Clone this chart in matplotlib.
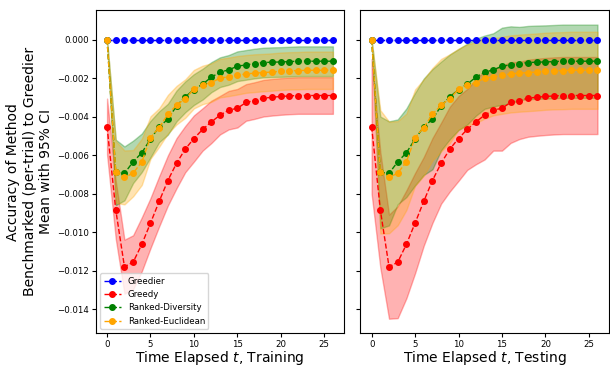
import numpy as np
import matplotlib
matplotlib.use("Agg")
import matplotlib.pyplot as plt

# time steps
t = np.arange(27)

methods = ['Greedier', 'Greedy', 'Ranked-Diversity', 'Ranked-Euclidean']
colors = ['blue', 'red', 'green', 'orange']

# mean accuracy relative to Greedier (same means in training and testing)
greedier_mean = [0.0] * 27
greedy_mean = [-0.00451, -0.00883, -0.01178, -0.01155, -0.01062, -0.00952, -0.00839,
               -0.00731, -0.00641, -0.00568, -0.00513, -0.00466, -0.00427, -0.00392,
               -0.00366, -0.00356, -0.00326, -0.00316, -0.00304, -0.00299, -0.00295,
               -0.00292, -0.0029, -0.0029, -0.0029, -0.0029, -0.0029]
diversity_mean = [0.0, -0.00689, -0.00694, -0.00634, -0.00587, -0.00516, -0.00452,
                  -0.00413, -0.00344, -0.00297, -0.00259, -0.00231, -0.00195, -0.00169,
                  -0.00157, -0.00138, -0.00131, -0.00124, -0.00119, -0.00117, -0.00116,
                  -0.00114, -0.00112, -0.00112, -0.00112, -0.00112, -0.00112]
euclid_mean = [0.0, -0.00686, -0.00715, -0.00693, -0.00634, -0.00508, -0.00456,
               -0.00387, -0.0034, -0.00306, -0.00257, -0.00235, -0.00223, -0.002,
               -0.00193, -0.00185, -0.00178, -0.00174, -0.00171, -0.00168, -0.00164,
               -0.00162, -0.00161, -0.00159, -0.00159, -0.00159, -0.00159]

# 95% CI half widths, training
greedier_ci_tr = [0.0] * 27
greedy_ci_tr = [0.00145, 0.0015, 0.0014, 0.0014, 0.0014, 0.0013, 0.0013, 0.0013, 0.0013,
                0.0012, 0.0012, 0.0011, 0.0011, 0.001, 0.001, 0.001, 0.00095, 0.00095,
                0.00095, 0.00095, 0.00095, 0.00095, 0.00095, 0.00095, 0.00095, 0.00095, 0.00095]
diversity_ci_tr = [0.0, 0.0017, 0.0014, 0.0011, 0.001, 0.00095, 0.0008, 0.0008, 0.0008,
                   0.0008, 0.0008, 0.0008, 0.00078, 0.00077, 0.00077, 0.00077, 0.00077,
                   0.00077, 0.00077, 0.00077, 0.00077, 0.00077, 0.00077, 0.00077, 0.00077,
                   0.00077, 0.00077]
euclid_ci_tr = [0.0, 0.0016, 0.0014, 0.0012, 0.0012, 0.0011, 0.001, 0.001, 0.001, 0.001,
                0.001, 0.001, 0.001, 0.001, 0.001, 0.001, 0.00098, 0.00098, 0.00097,
                0.00097, 0.00097, 0.00097, 0.00097, 0.00097, 0.00097, 0.00097, 0.00097]

# 95% CI half widths, testing
greedier_ci_te = [0.0] * 27
greedy_ci_te = [0.0035, 0.003, 0.0027, 0.0029, 0.0028, 0.0026, 0.0023, 0.0022, 0.0021,
                0.0022, 0.0022, 0.0021, 0.0022, 0.0023, 0.0021, 0.0022, 0.0021, 0.002,
                0.002, 0.002, 0.002, 0.002, 0.002, 0.002, 0.002, 0.002, 0.002]
diversity_ci_te = [0.0, 0.0029, 0.0027, 0.0022, 0.0023, 0.0024, 0.0025, 0.0026, 0.0023,
                   0.0022, 0.0021, 0.0021, 0.002, 0.0019, 0.0019, 0.002, 0.002, 0.0019,
                   0.0019, 0.0019, 0.0019, 0.0019, 0.0019, 0.0019, 0.0019, 0.0019, 0.0019]
euclid_ci_te = [0.0, 0.0032, 0.0029, 0.0027, 0.0025, 0.0025, 0.0025, 0.0024, 0.0024,
                0.0023, 0.0021, 0.0021, 0.0021, 0.0021, 0.002, 0.002, 0.002, 0.002, 0.002,
                0.002, 0.002, 0.002, 0.002, 0.002, 0.002, 0.002, 0.002]

means = [greedier_mean, greedy_mean, diversity_mean, euclid_mean]
cis = {'Training': [greedier_ci_tr, greedy_ci_tr, diversity_ci_tr, euclid_ci_tr],
       'Testing': [greedier_ci_te, greedy_ci_te, diversity_ci_te, euclid_ci_te]}

fig, axes = plt.subplots(1, 2, figsize=(6.1, 3.66), dpi=100, sharey=True)
fig.subplots_adjust(left=0.157, right=0.998, top=0.973, bottom=0.089, wspace=0.065)

for ax, phase in zip(axes, ['Training', 'Testing']):
    for name, c, m, ci in zip(methods, colors, means, cis[phase]):
        m = np.array(m)
        ci = np.array(ci)
        ax.plot(t, m, '--o', color=c, label=name, markersize=4, linewidth=1)
        ax.fill_between(t, m - ci, m + ci, color=c, alpha=0.3)
    ax.set_xlabel('Time Elapsed $t$, ' + phase, fontsize=10, labelpad=0)
    ax.tick_params(labelsize=6.2, length=3, pad=2)
    ax.set_xticks([0, 5, 10, 15, 20, 25])

axes[0].set_ylabel('Accuracy of Method\nBenchmarked (per-trial) to Greedier\nMean with 95% CI',
                   fontsize=10, labelpad=3)
axes[0].legend(loc='lower left', fontsize=6.2)

fig.savefig('out.png', dpi=100)
